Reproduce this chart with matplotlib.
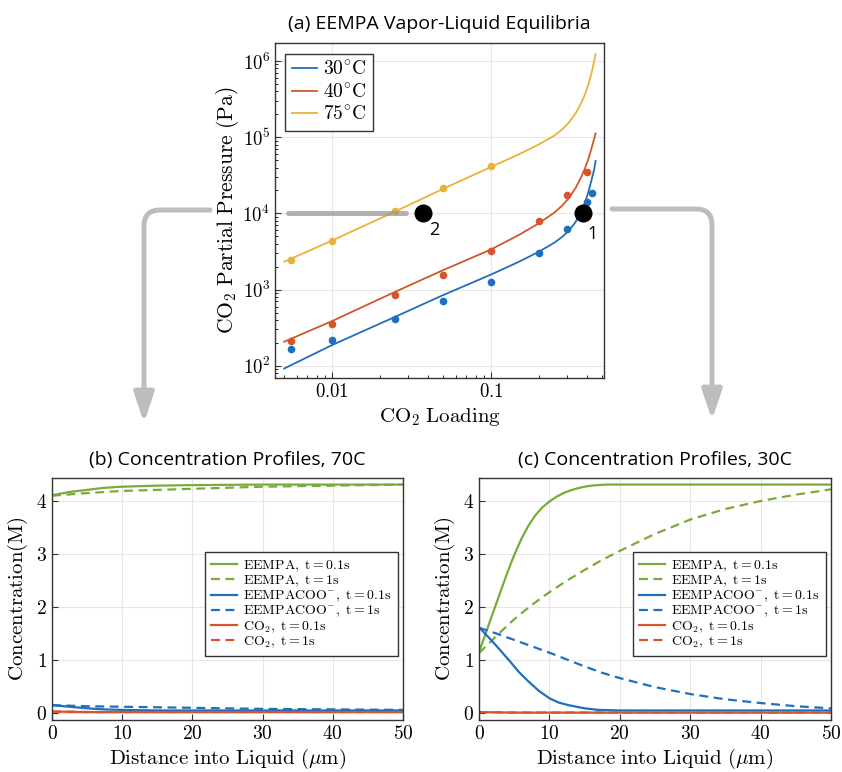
import matplotlib
matplotlib.use('Agg')
import matplotlib.pyplot as plt
from matplotlib.patches import FancyArrowPatch
from matplotlib.ticker import FixedLocator, FixedFormatter, LogLocator, NullFormatter

plt.rcParams.update({
    'font.family': 'serif',
    'font.serif': ['cmr10', 'DejaVu Serif'],
    'mathtext.fontset': 'cm',
    'axes.formatter.use_mathtext': True,
    'axes.unicode_minus': False,
    'xtick.direction': 'in',
    'ytick.direction': 'in',
    'axes.edgecolor': '#333333',
    'axes.linewidth': 1.0,
})

BLUE, RED, YEL, GRN = '#1f6fbf', '#d4562a', '#e8b33a', '#7aab3a'
ARROW_GREY = '#bdbdbd'
TITLE_FONT = 'Open Sans'

# ---- (a) VLE data -------------------------------------------------------
load_75 = [0.0055, 0.01, 0.025, 0.05, 0.1]
p_75    = [2440, 4370, 10800, 21300, 42300]
load_40 = [0.0055, 0.01, 0.025, 0.05, 0.1, 0.2, 0.3, 0.4]
p_40    = [209, 352, 855, 1567, 3237, 7900, 17300, 35300]
load_30 = [0.0055, 0.01, 0.025, 0.05, 0.1, 0.2, 0.3, 0.4, 0.434]
p_30    = [165, 217, 414, 706, 1268, 3030, 6300, 14100, 18700]

fit_load = [0.005, 0.01, 0.025, 0.05, 0.1, 0.15, 0.2, 0.25, 0.28, 0.31, 0.34,
            0.37, 0.39, 0.41, 0.43, 0.445, 0.455]
fit_75   = [2320, 4400, 10600, 21000, 40700, 59700, 80400, 104700, 126000, 157000,
            204000, 282000, 363000, 490000, 708000, 977000, 1230000]
fit_40   = [207, 386, 937, 1800, 3360, 5220, 7410, 10230, 12590, 16030, 21380,
            30200, 38900, 51900, 72400, 94400, 112000]
fit_30   = [92, 187, 440, 847, 1575, 2320, 3140, 4120, 4900, 5960, 7670,
            10590, 13800, 19050, 27900, 37150, 49000]

state_load  = [0.0374, 0.377]
state_p     = [1.0e4, 1.0e4]
state_names = ['2', '1']

# ---- (b) 70C profiles ---------------------------------------------------
b_x_gs = [0, 2.5, 5, 7.5, 10, 15, 20, 30, 50]
b_gs   = [4.11, 4.17, 4.21, 4.25, 4.27, 4.29, 4.30, 4.31, 4.31]
b_x_gd = [0, 5, 10, 20, 30, 40, 50]
b_gd   = [4.10, 4.15, 4.19, 4.23, 4.27, 4.29, 4.31]
b_x_bs = [0, 2.5, 5, 7.5, 10, 15, 50]
b_bs   = [0.15, 0.12, 0.09, 0.07, 0.06, 0.05, 0.05]
b_x_bd = [0, 5, 10, 20, 30, 40, 50]
b_bd   = [0.15, 0.13, 0.12, 0.10, 0.08, 0.07, 0.06]
b_x_r  = [0, 5, 50]
b_rs   = [0.03, 0.02, 0.02]
b_rd   = [0.03, 0.02, 0.02]

# ---- (c) 30C profiles ---------------------------------------------------
c_x_gs = [0, 1, 2, 3, 4, 5, 6, 7, 8, 9, 10, 11, 12, 13, 14, 15, 16, 18, 50]
c_gs   = [1.15, 1.52, 1.9, 2.27, 2.64, 2.98, 3.28, 3.53, 3.73, 3.88, 3.99, 4.08,
          4.15, 4.2, 4.24, 4.27, 4.29, 4.31, 4.31]
c_x_gd = [0, 2.5, 5, 7.5, 10, 12.5, 15, 17.5, 20, 25, 30, 35, 40, 45, 50]
c_gd   = [1.13, 1.46, 1.77, 2.04, 2.28, 2.5, 2.7, 2.89, 3.06, 3.38, 3.65, 3.85, 4.0, 4.12, 4.22]
c_x_bs = [0, 1.5, 3, 4.5, 5.7, 7, 8.5, 10, 11.3, 12.7, 15, 17, 20, 50]
c_bs   = [1.62, 1.41, 1.19, 0.96, 0.77, 0.6, 0.42, 0.28, 0.2, 0.15, 0.09, 0.06, 0.05, 0.05]
c_x_bd = [0, 2.5, 5, 7.5, 10, 12.5, 15, 17.5, 20, 25, 30, 35, 40, 45, 50]
c_bd   = [1.61, 1.5, 1.38, 1.26, 1.14, 1.01, 0.88, 0.76, 0.66, 0.49, 0.36, 0.26, 0.19, 0.13, 0.09]
c_x_r  = [0, 5, 50]
c_rs   = [0.02, 0.01, 0.01]
c_rd   = [0.02, 0.01, 0.01]

W, H = 842, 772
fig = plt.figure(figsize=(W / 100, H / 100), dpi=100)


def px_axes(left, top, right, bottom):
    return fig.add_axes([left / W, 1 - bottom / H, (right - left) / W, (bottom - top) / H])


def style(ax):
    ax.grid(True, color='#e6e6e6', linewidth=0.8)
    ax.set_axisbelow(True)
    ax.tick_params(labelsize=13.5, length=4, width=0.8, color='#333333')
    ax.tick_params(which='minor', length=2.5, width=0.6)


# ---- panel (a) ----------------------------------------------------------
ax = px_axes(275, 43, 604, 378)
ax.set_xscale('log')
ax.set_yscale('log')
ax.plot(fit_load, fit_30, color=BLUE, lw=1.3, label=r'$30^{\circ}\mathrm{C}$')
ax.plot(fit_load, fit_40, color=RED, lw=1.3, label=r'$40^{\circ}\mathrm{C}$')
ax.plot(fit_load, fit_75, color=YEL, lw=1.3, label=r'$75^{\circ}\mathrm{C}$')
ax.plot(load_30, p_30, 'o', color=BLUE, ms=5.5, mec='none')
ax.plot(load_40, p_40, 'o', color=RED, ms=5.5, mec='none')
ax.plot(load_75, p_75, 'o', color=YEL, ms=5.5, mec='none')
ax.plot([0.0053, 0.029], [1e4, 1e4], color='#9a9a9a', lw=3.6, alpha=0.75,
        solid_capstyle='round', zorder=4)
ax.plot(state_load, state_p, 'o', color='black', ms=12, zorder=5)
for name, x, y, dx, dy in zip(state_names, state_load, state_p, [8, 7], [-12, -15]):
    ax.annotate(name, (x, y), xytext=(dx, dy), textcoords='offset points',
                ha='center', va='center', fontsize=13, family=TITLE_FONT)
ax.set_xlim(0.00438, 0.514)
ax.set_ylim(10 ** 1.84, 10 ** 6.236)
ax.xaxis.set_major_locator(FixedLocator([0.01, 0.1]))
ax.xaxis.set_major_formatter(FixedFormatter([r'$0.01$', r'$0.1$']))
ax.xaxis.set_minor_locator(LogLocator(subs=range(2, 10)))
ax.xaxis.set_minor_formatter(NullFormatter())
ax.yaxis.set_minor_locator(LogLocator(subs=range(2, 10)))
ax.yaxis.set_minor_formatter(NullFormatter())
style(ax)
ax.set_xlabel(r'$\mathrm{CO_2\ Loading}$', fontsize=15, labelpad=4)
ax.set_ylabel(r'$\mathrm{CO_2\ Partial\ Pressure\ (Pa)}$', fontsize=15.5, labelpad=1)
ax.set_title('(a) EEMPA Vapor-Liquid Equilibria', family=TITLE_FONT, fontsize=14, pad=10)
leg = ax.legend(loc='upper left', bbox_to_anchor=(0.03, 0.967), borderaxespad=0,
                fontsize=14, handlelength=1.3, handletextpad=0.3, labelspacing=0.2,
                borderpad=0.35, fancybox=False, framealpha=1, edgecolor='#333333')
leg.get_frame().set_linewidth(1.0)


# ---- panels (b) and (c) -------------------------------------------------
def profile_panel(box, title, gs, gd, bs, bd, rs, rd):
    axp = px_axes(*box)
    axp.plot(*gs, color=GRN, lw=1.6, label=r'$\mathrm{EEMPA,\ t = 0.1s}$')
    axp.plot(*gd, color=GRN, lw=1.6, ls=(0, (4, 2.5)), label=r'$\mathrm{EEMPA,\ t = 1s}$')
    axp.plot(*bs, color=BLUE, lw=1.6, label=r'$\mathrm{EEMPACOO^{-},\ t = 0.1s}$')
    axp.plot(*bd, color=BLUE, lw=1.6, ls=(0, (4, 2.5)), label=r'$\mathrm{EEMPACOO^{-},\ t = 1s}$')
    axp.plot(*rs, color=RED, lw=1.6, label=r'$\mathrm{CO_2,\ t = 0.1s}$')
    axp.plot(*rd, color=RED, lw=1.6, ls=(0, (4, 2.5)), label=r'$\mathrm{CO_2,\ t = 1s}$')
    axp.set_xlim(0, 50)
    axp.set_ylim(-0.13, 4.434)
    axp.set_xticks([0, 10, 20, 30, 40, 50])
    axp.set_yticks([0, 1, 2, 3, 4])
    style(axp)
    axp.tick_params(labelsize=14)
    axp.set_xlabel(r'$\mathrm{Distance\ into\ Liquid\ (\mu m)}$', fontsize=15, labelpad=3)
    axp.set_ylabel(r'$\mathrm{Concentration(M)}$', fontsize=15, labelpad=4)
    axp.set_title(title, family=TITLE_FONT, fontsize=14, pad=9)
    lg = axp.legend(loc='upper right', bbox_to_anchor=(0.985, 0.694), borderaxespad=0,
                    fontsize=10, handlelength=1.9, handletextpad=0.4, labelspacing=0.0,
                    borderpad=0.45, fancybox=False, framealpha=1, edgecolor='#333333')
    lg.get_frame().set_linewidth(1.0)
    return axp


profile_panel((52, 478, 403, 720), '(b) Concentration Profiles, 70C',
              (b_x_gs, b_gs), (b_x_gd, b_gd), (b_x_bs, b_bs), (b_x_bd, b_bd),
              (b_x_r, b_rs), (b_x_r, b_rd))
profile_panel((479, 478, 831, 720), '(c) Concentration Profiles, 30C',
              (c_x_gs, c_gs), (c_x_gd, c_gd), (c_x_bs, c_bs), (c_x_bd, c_bd),
              (c_x_r, c_rs), (c_x_r, c_rd))


# ---- grey connector arrows ---------------------------------------------
def connector(start, tip):
    arr = FancyArrowPatch((start[0] / W, 1 - start[1] / H), (tip[0] / W, 1 - tip[1] / H),
                          transform=fig.transFigure,
                          connectionstyle='angle,angleA=0,angleB=90,rad=16',
                          arrowstyle='-|>,head_length=0.6,head_width=0.2',
                          mutation_scale=30, color=ARROW_GREY, lw=3.6,
                          shrinkA=0, shrinkB=0, capstyle='round', joinstyle='round')
    fig.add_artist(arr)


connector((210, 210), (144, 423))
connector((612, 209), (712, 420))

fig.savefig('out.png', dpi=100)
